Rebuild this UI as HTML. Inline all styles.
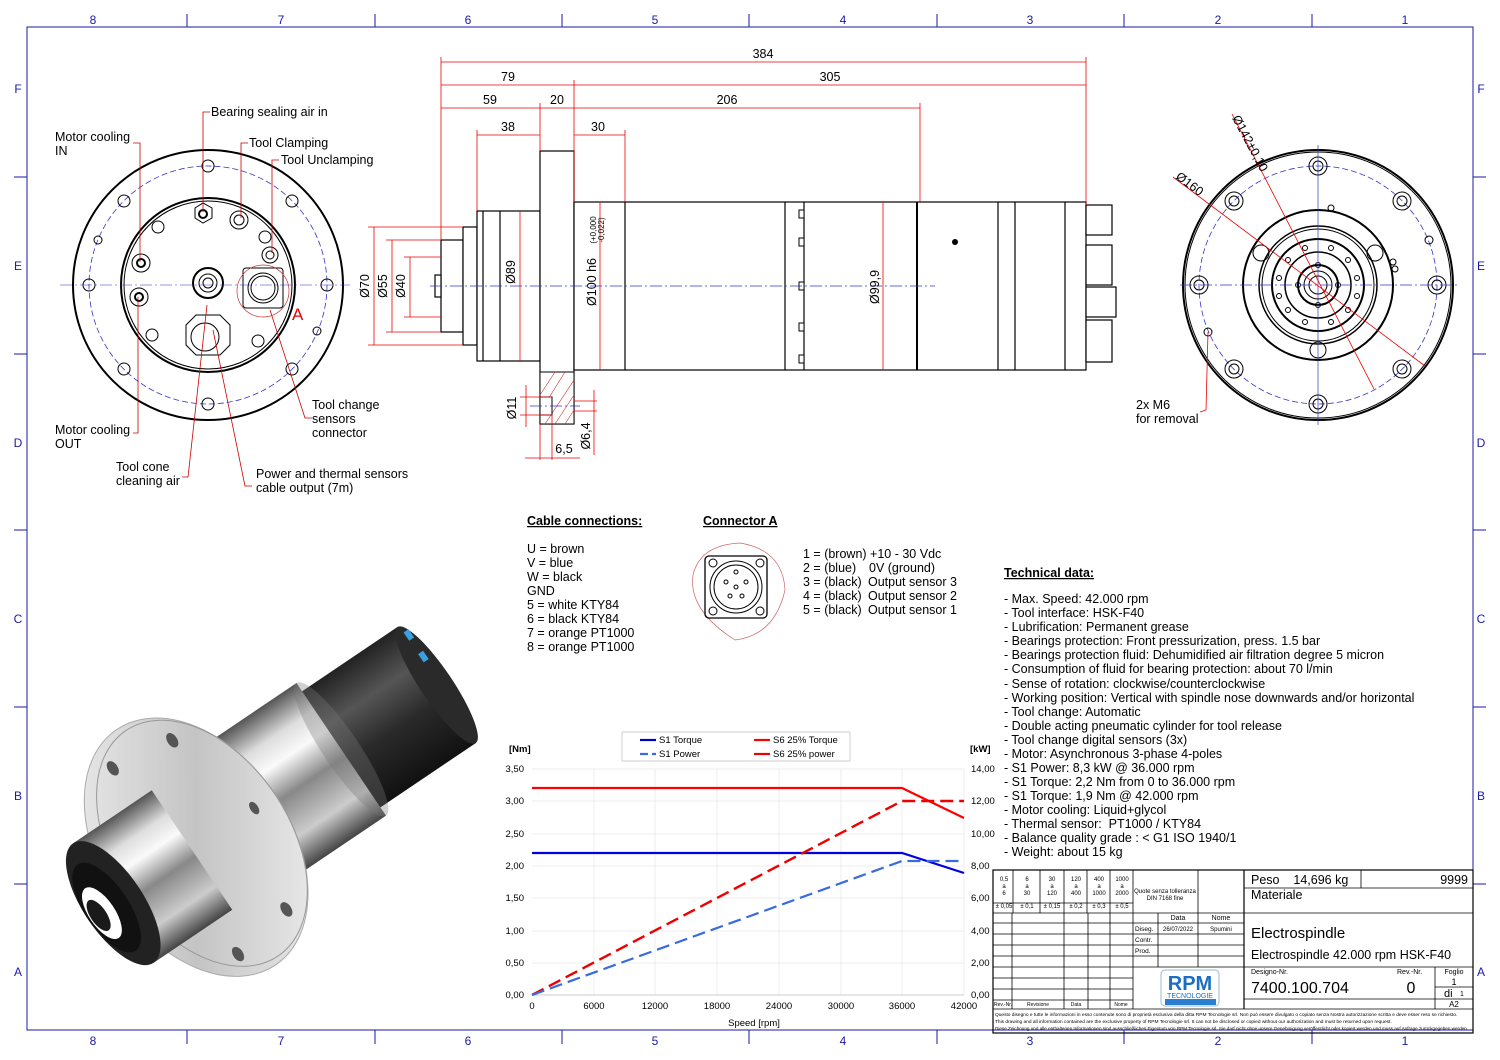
<!DOCTYPE html>
<html><head><meta charset="utf-8"><style>
html,body{margin:0;padding:0;background:#fff}
svg{display:block;font-family:"Liberation Sans",Arial,sans-serif}
.pre{white-space:pre}
</style></head><body>
<svg width="1500" height="1060" viewBox="0 0 1500 1060" xmlns="http://www.w3.org/2000/svg">
<defs>
<linearGradient id="sil" x1="0" y1="0" x2="0" y2="1">
<stop offset="0" stop-color="#555"/><stop offset="0.2" stop-color="#ddd"/><stop offset="0.35" stop-color="#fafafa"/><stop offset="0.55" stop-color="#888"/><stop offset="0.8" stop-color="#ccc"/><stop offset="1" stop-color="#444"/></linearGradient>
<linearGradient id="blk" x1="0" y1="0" x2="0" y2="1">
<stop offset="0" stop-color="#222"/><stop offset="0.3" stop-color="#555"/><stop offset="0.6" stop-color="#2a2a2a"/><stop offset="1" stop-color="#111"/></linearGradient>
<linearGradient id="fl" x1="0" y1="0" x2="1" y2="1">
<stop offset="0" stop-color="#f2f2f2"/><stop offset="0.5" stop-color="#c4c4c4"/><stop offset="1" stop-color="#f4f4f4"/></linearGradient>
</defs>
<rect width="1500" height="1060" fill="#fff"/>
<!-- frame -->
<g stroke="#1a1aa8" fill="none" stroke-width="1">
<rect x="27" y="27" width="1446" height="1003"/>
<line x1="187" y1="14" x2="187" y2="27"/><line x1="375" y1="14" x2="375" y2="27"/><line x1="562" y1="14" x2="562" y2="27"/><line x1="749" y1="14" x2="749" y2="27"/><line x1="937" y1="14" x2="937" y2="27"/><line x1="1124" y1="14" x2="1124" y2="27"/><line x1="1312" y1="14" x2="1312" y2="27"/>
<line x1="187" y1="1030" x2="187" y2="1044"/><line x1="375" y1="1030" x2="375" y2="1044"/><line x1="562" y1="1030" x2="562" y2="1044"/><line x1="749" y1="1030" x2="749" y2="1044"/><line x1="937" y1="1030" x2="937" y2="1044"/><line x1="1124" y1="1030" x2="1124" y2="1044"/><line x1="1312" y1="1030" x2="1312" y2="1044"/>
<line x1="14" y1="177" x2="27" y2="177"/><line x1="14" y1="354" x2="27" y2="354"/><line x1="14" y1="530" x2="27" y2="530"/><line x1="14" y1="707" x2="27" y2="707"/><line x1="14" y1="884" x2="27" y2="884"/>
<line x1="1473" y1="177" x2="1486" y2="177"/><line x1="1473" y1="354" x2="1486" y2="354"/><line x1="1473" y1="530" x2="1486" y2="530"/><line x1="1473" y1="707" x2="1486" y2="707"/><line x1="1473" y1="884" x2="1486" y2="884"/>
</g>
<g fill="#1a1aa8" font-size="12" text-anchor="middle">
<text x="93" y="24">8</text><text x="281" y="24">7</text><text x="468" y="24">6</text><text x="655" y="24">5</text><text x="843" y="24">4</text><text x="1030" y="24">3</text><text x="1218" y="24">2</text><text x="1405" y="24">1</text>
<text x="93" y="1045">8</text><text x="281" y="1045">7</text><text x="468" y="1045">6</text><text x="655" y="1045">5</text><text x="843" y="1045">4</text><text x="1030" y="1045">3</text><text x="1218" y="1045">2</text><text x="1405" y="1045">1</text>
<text x="18" y="93">F</text><text x="18" y="270">E</text><text x="18" y="447">D</text><text x="18" y="623">C</text><text x="18" y="800">B</text><text x="18" y="976">A</text>
<text x="1481" y="93">F</text><text x="1481" y="270">E</text><text x="1481" y="447">D</text><text x="1481" y="623">C</text><text x="1481" y="800">B</text><text x="1481" y="976">A</text>
</g>

<!-- LEFT VIEW -->
<g fill="none" stroke="#000">
<circle cx="208" cy="285" r="135" stroke-width="2"/>
<circle cx="208" cy="285" r="119" stroke="#33c" stroke-dasharray="6,3" stroke-width="0.8"/>
<circle cx="208" cy="285" r="87" stroke-width="2"/>
<circle cx="208" cy="285" r="84"/>
<g stroke-width="1">
<circle cx="208" cy="166" r="6"/><circle cx="208" cy="404" r="6"/><circle cx="89" cy="285" r="6"/><circle cx="327" cy="285" r="6"/>
<circle cx="124" cy="201" r="6"/><circle cx="292" cy="201" r="6"/><circle cx="124" cy="369" r="6"/><circle cx="292" cy="369" r="6"/>
<circle cx="98" cy="240" r="4"/><circle cx="317" cy="331" r="4"/>
<circle cx="158" cy="227" r="6"/><circle cx="265" cy="237" r="6"/><circle cx="152" cy="335" r="6"/><circle cx="258" cy="341" r="6"/>
<polygon points="195,208 203,203 212,208 212,218 203,223 195,218"/><circle cx="203" cy="214" r="4" stroke-width="2"/>
<circle cx="239" cy="220" r="9"/><circle cx="239" cy="220" r="5"/>
<circle cx="270" cy="255" r="8"/><circle cx="270" cy="255" r="4"/>
<circle cx="141" cy="263" r="9"/><circle cx="141" cy="263" r="4" stroke-width="2"/>
<circle cx="139" cy="297" r="9"/><circle cx="139" cy="297" r="4" stroke-width="2"/>
<circle cx="208" cy="283" r="15" stroke-width="2"/><circle cx="208" cy="283" r="9"/><circle cx="208" cy="283" r="5"/>
<polygon points="186,325 196,315 220,315 230,325 230,345 220,355 196,355 186,345"/><circle cx="205" cy="337" r="14"/>
<rect x="243" y="268" width="40" height="40" rx="3"/><circle cx="263" cy="288" r="15"/><circle cx="263" cy="288" r="12"/>
</g>
<circle cx="263" cy="291" r="26" stroke="#c33" stroke-width="0.7"/>
</g>
<g stroke="#33c" stroke-width="0.6" stroke-dasharray="12,3,2,3"><line x1="60" y1="285" x2="350" y2="285"/></g>
<text x="292" y="320" fill="#e00" font-size="17">A</text>
<g stroke="#c00" fill="none" stroke-width="0.8">
<polyline points="210,112 203,112 203,212"/>
<polyline points="248,143 241,143 241,218"/>
<polyline points="279,160 272,160 272,253"/>
<polyline points="133,143 140,143 140,262"/>
<polyline points="133,433 138,433 138,297"/>
<polyline points="182,477 188,477 207,305"/>
<polyline points="252,486 245,486 213,330"/>
<polyline points="312,418 305,418 270,310"/>
</g>
<g font-size="12.5" fill="#000">
<text x="211" y="116">Bearing sealing air in</text>
<text x="249" y="147">Tool Clamping</text>
<text x="281" y="164">Tool Unclamping</text>
<text x="55" y="141">Motor cooling</text><text x="55" y="155">IN</text>
<text x="55" y="434">Motor cooling</text><text x="55" y="448">OUT</text>
<text x="116" y="471">Tool cone</text><text x="116" y="485">cleaning air</text>
<text x="256" y="478">Power and thermal sensors</text><text x="256" y="492">cable output (7m)</text>
<text x="312" y="409">Tool change</text><text x="312" y="423">sensors</text><text x="312" y="437">connector</text>
</g>

<!-- SIDE VIEW -->
<g fill="#fff" stroke="#000" stroke-width="1.2">
<rect x="441" y="240" width="22" height="92"/>
<rect x="463" y="227" width="14" height="118"/>
<rect x="477" y="211" width="63" height="150"/>
<line x1="483" y1="211" x2="483" y2="361"/><line x1="500" y1="211" x2="500" y2="361"/>
<rect x="540" y="151" width="34" height="273"/>
<rect x="574" y="202" width="512" height="168"/>
<line x1="625" y1="202" x2="625" y2="370"/><line x1="785" y1="202" x2="785" y2="370"/><line x1="804" y1="202" x2="804" y2="370"/>
<line x1="917" y1="202" x2="917" y2="370" stroke-width="2"/><line x1="998" y1="202" x2="998" y2="370"/><line x1="1015" y1="202" x2="1015" y2="370"/><line x1="1065" y1="202" x2="1065" y2="370"/>
<rect x="1086" y="205" width="26" height="30"/><rect x="1086" y="245" width="26" height="40"/><rect x="1086" y="287" width="30" height="30"/><rect x="1086" y="320" width="26" height="42"/>
<rect x="435" y="275" width="6" height="22"/>
</g>
<circle cx="955" cy="242" r="3"/>
<g fill="#fff" stroke="#000"><rect x="799" y="210" width="5" height="8"/><rect x="799" y="238" width="5" height="8"/><rect x="799" y="282" width="5" height="8"/><rect x="799" y="323" width="5" height="8"/><rect x="799" y="355" width="5" height="8"/></g>
<rect x="540" y="372" width="34" height="52" fill="#fff" stroke="#000"/>
<g stroke="#c33" stroke-width="0.6"><line x1="545" y1="424" x2="574" y2="380"/><line x1="555" y1="424" x2="574" y2="395"/><line x1="565" y1="424" x2="574" y2="410"/><line x1="540" y1="395" x2="555" y2="372"/><line x1="540" y1="412" x2="565" y2="372"/></g>
<rect x="540" y="397" width="12" height="18" fill="#fff" stroke="#000"/>
<g stroke="#33c" stroke-width="0.7" stroke-dasharray="12,3,2,3"><line x1="430" y1="286" x2="935" y2="286"/><line x1="530" y1="406" x2="580" y2="406"/></g>
<!-- dims -->
<g stroke="#e00" stroke-width="0.8" fill="none">
<line x1="441" y1="57" x2="441" y2="240"/><line x1="1086" y1="57" x2="1086" y2="205"/><line x1="574" y1="80" x2="574" y2="202"/>
<line x1="540" y1="103" x2="540" y2="151"/><line x1="920" y1="103" x2="920" y2="202"/><line x1="477" y1="130" x2="477" y2="211"/><line x1="625" y1="130" x2="625" y2="202"/>
<line x1="441" y1="62" x2="1086" y2="62"/><line x1="441" y1="85" x2="1086" y2="85"/><line x1="441" y1="108" x2="920" y2="108"/><line x1="477" y1="135" x2="540" y2="135"/><line x1="574" y1="135" x2="625" y2="135"/>
<line x1="368" y1="227" x2="463" y2="227"/><line x1="368" y1="345" x2="463" y2="345"/><line x1="386" y1="240" x2="441" y2="240"/><line x1="386" y1="332" x2="441" y2="332"/><line x1="404" y1="257" x2="441" y2="257"/><line x1="404" y1="317" x2="441" y2="317"/>
<line x1="374" y1="227" x2="374" y2="345"/><line x1="392" y1="240" x2="392" y2="332"/><line x1="410" y1="257" x2="410" y2="317"/>
<line x1="520" y1="211" x2="520" y2="361"/><line x1="600" y1="202" x2="600" y2="370"/><line x1="883" y1="202" x2="883" y2="370"/>
<line x1="520" y1="397" x2="552" y2="397"/><line x1="520" y1="415" x2="552" y2="415"/><line x1="526" y1="385" x2="526" y2="427"/>
<line x1="574" y1="401" x2="597" y2="401"/><line x1="574" y1="411" x2="597" y2="411"/><line x1="594" y1="390" x2="594" y2="455"/>
<line x1="540" y1="424" x2="540" y2="460"/><line x1="552" y1="415" x2="552" y2="460"/><line x1="525" y1="458" x2="580" y2="458"/>
</g>
<g font-size="12.5" fill="#000" text-anchor="middle">
<text x="763" y="58">384</text><text x="508" y="81">79</text><text x="830" y="81">305</text>
<text x="490" y="104">59</text><text x="557" y="104">20</text><text x="727" y="104">206</text>
<text x="508" y="131">38</text><text x="598" y="131">30</text>
<text x="564" y="453">6,5</text>
<text transform="translate(369,286) rotate(-90)">Ø70</text>
<text transform="translate(387,286) rotate(-90)">Ø55</text>
<text transform="translate(405,286) rotate(-90)">Ø40</text>
<text transform="translate(515,272) rotate(-90)">Ø89</text>
<text transform="translate(596,282) rotate(-90)">Ø100 h6</text>
<text transform="translate(596,230) rotate(-90)" font-size="8">(+0,000</text>
<text transform="translate(604,230) rotate(-90)" font-size="8"> -0,022)</text>
<text transform="translate(879,287) rotate(-90)">Ø99,9</text>
<text transform="translate(516,408) rotate(-90)">Ø11</text>
<text transform="translate(590,436) rotate(-90)">Ø6,4</text>
</g>

<!-- RIGHT VIEW -->
<g fill="none" stroke="#000">
<circle cx="1318" cy="285" r="135" stroke-width="2"/><circle cx="1318" cy="285" r="133"/>
<circle cx="1318" cy="285" r="119" stroke="#33c" stroke-dasharray="6,3" stroke-width="0.8"/>
<circle cx="1318" cy="285" r="75" stroke-width="2"/><circle cx="1318" cy="285" r="59" stroke-width="1.5"/><circle cx="1318" cy="285" r="56"/>
<circle cx="1318" cy="285" r="46" stroke-width="2"/><circle cx="1318" cy="285" r="33" stroke-width="1.5"/><circle cx="1318" cy="285" r="20" stroke-width="2"/><circle cx="1318" cy="285" r="14"/><circle cx="1318" cy="285" r="9"/>
<g stroke-width="1">
<circle cx="1318" cy="166" r="9"/><circle cx="1318" cy="166" r="5"/><circle cx="1318" cy="404" r="9"/><circle cx="1318" cy="404" r="5"/>
<circle cx="1199" cy="285" r="9"/><circle cx="1199" cy="285" r="5"/><circle cx="1437" cy="285" r="9"/><circle cx="1437" cy="285" r="5"/>
<circle cx="1234" cy="201" r="9"/><circle cx="1234" cy="201" r="5"/><circle cx="1402" cy="201" r="9"/><circle cx="1402" cy="201" r="5"/>
<circle cx="1234" cy="369" r="9"/><circle cx="1234" cy="369" r="5"/><circle cx="1402" cy="369" r="9"/><circle cx="1402" cy="369" r="5"/>
<circle cx="1208" cy="332" r="4"/><circle cx="1429" cy="240" r="4"/>
<circle cx="1261" cy="253" r="8"/><circle cx="1375" cy="253" r="8"/><circle cx="1318" cy="350" r="8"/><circle cx="1331" cy="208" r="3"/><circle cx="1393" cy="262" r="3"/><circle cx="1395" cy="269" r="3"/>
<circle cx="1338" cy="285" r="2.5"/><circle cx="1298" cy="285" r="2.5"/><circle cx="1318" cy="265" r="2.5"/><circle cx="1318" cy="305" r="2.5"/>
<circle cx="1331" cy="248" r="2.5"/><circle cx="1305" cy="248" r="2.5"/><circle cx="1331" cy="322" r="2.5"/><circle cx="1305" cy="322" r="2.5"/>
<circle cx="1348" cy="260" r="2.5"/><circle cx="1288" cy="260" r="2.5"/><circle cx="1348" cy="310" r="2.5"/><circle cx="1288" cy="310" r="2.5"/>
<circle cx="1357" cy="278" r="2.5"/><circle cx="1279" cy="278" r="2.5"/><circle cx="1357" cy="296" r="2.5"/><circle cx="1279" cy="296" r="2.5"/>
</g></g>
<g stroke="#33c" stroke-width="0.7"><line x1="1180" y1="285" x2="1460" y2="285" stroke-dasharray="12,3,2,3"/><line x1="1318" y1="145" x2="1318" y2="425"/></g>
<g stroke="#e00" stroke-width="0.8" fill="none">
<line x1="1232" y1="114" x2="1374" y2="389"/><line x1="1173" y1="177" x2="1425" y2="366"/>
<polyline points="1208,332 1206,410 1200,412"/>
</g>
<g font-size="12.5" fill="#000">
<text transform="translate(1232,118) rotate(62)">Ø142±0,10</text>
<text transform="translate(1175,178) rotate(37)">Ø160</text>
<text x="1136" y="409">2x M6</text><text x="1136" y="423">for removal</text>
</g>

<!-- Cable connections / connector -->
<g font-size="12.5" fill="#000">
<text x="527" y="525" font-weight="bold" text-decoration="underline">Cable connections:</text>
<text x="703" y="525" font-weight="bold" text-decoration="underline">Connector A</text>
<text x="527" y="553">U = brown</text><text x="527" y="567">V = blue</text><text x="527" y="581">W = black</text><text x="527" y="595">GND</text>
<text x="527" y="609">5 = white KTY84</text><text x="527" y="623">6 = black KTY84</text><text x="527" y="637">7 = orange PT1000</text><text x="527" y="651">8 = orange PT1000</text>
<text x="803" y="558">1 = (brown) +10 - 30 Vdc</text><text x="803" y="572">2 = (blue)</text><text x="869" y="572">0V (ground)</text>
<text x="803" y="586">3 = (black)</text><text x="868" y="586">Output sensor 3</text><text x="803" y="600">4 = (black)</text><text x="868" y="600">Output sensor 2</text><text x="803" y="614">5 = (black)</text><text x="868" y="614">Output sensor 1</text>
</g>
<g fill="none" stroke="#000">
<path d="M740,543 Q700,545 693,575 Q688,610 735,640 Q775,635 785,590 Q783,550 740,543" stroke="#c66" stroke-width="0.7"/>
<rect x="705" y="556" width="62" height="62" rx="4" stroke-width="1.3"/><circle cx="736" cy="587" r="26"/><circle cx="736" cy="587" r="22"/>
<circle cx="713" cy="563" r="4"/><circle cx="760" cy="563" r="4"/><circle cx="713" cy="611" r="4"/><circle cx="760" cy="611" r="4"/>
<circle cx="736" cy="587" r="2"/><circle cx="726" cy="582" r="2"/><circle cx="746" cy="582" r="2"/><circle cx="730" cy="596" r="2"/><circle cx="742" cy="596" r="2"/><circle cx="736" cy="572" r="2"/>
</g>

<!-- Technical data -->
<g font-size="12.5" fill="#000">
<text x="1004" y="577" font-weight="bold" text-decoration="underline">Technical data:</text>
<text x="1004" y="603">- Max. Speed: 42.000 rpm</text>
<text x="1004" y="617">- Tool interface: HSK-F40</text>
<text x="1004" y="631">- Lubrification: Permanent grease</text>
<text x="1004" y="645">- Bearings protection: Front pressurization, press. 1.5 bar</text>
<text x="1004" y="659">- Bearings protection fluid: Dehumidified air filtration degree 5 micron</text>
<text x="1004" y="673">- Consumption of fluid for bearing protection: about 70 l/min</text>
<text x="1004" y="688">- Sense of rotation: clockwise/counterclockwise</text>
<text x="1004" y="702">- Working position: Vertical with spindle nose downwards and/or horizontal</text>
<text x="1004" y="716">- Tool change: Automatic</text>
<text x="1004" y="730">- Double acting pneumatic cylinder for tool release</text>
<text x="1004" y="744">- Tool change digital sensors (3x)</text>
<text x="1004" y="758">- Motor: Asynchronous 3-phase 4-poles</text>
<text x="1004" y="772">- S1 Power: 8,3 kW @ 36.000 rpm</text>
<text x="1004" y="786">- S1 Torque: 2,2 Nm from 0 to 36.000 rpm</text>
<text x="1004" y="800">- S1 Torque: 1,9 Nm @ 42.000 rpm</text>
<text x="1004" y="814">- Motor cooling: Liquid+glycol</text>
<text x="1004" y="828" class="pre">- Thermal sensor:  PT1000 / KTY84</text>
<text x="1004" y="842">- Balance quality grade : &lt; G1 ISO 1940/1</text>
<text x="1004" y="856">- Weight: about 15 kg</text>
</g>

<!-- Chart -->
<g stroke="#e8e8e8" stroke-width="0.8">
<line x1="532" y1="769" x2="964" y2="769"/><line x1="532" y1="801" x2="964" y2="801"/><line x1="532" y1="834" x2="964" y2="834"/><line x1="532" y1="866" x2="964" y2="866"/><line x1="532" y1="898" x2="964" y2="898"/><line x1="532" y1="931" x2="964" y2="931"/><line x1="532" y1="963" x2="964" y2="963"/>
<line x1="594" y1="769" x2="594" y2="995"/><line x1="655" y1="769" x2="655" y2="995"/><line x1="717" y1="769" x2="717" y2="995"/><line x1="779" y1="769" x2="779" y2="995"/><line x1="841" y1="769" x2="841" y2="995"/><line x1="902" y1="769" x2="902" y2="995"/><line x1="964" y1="769" x2="964" y2="995"/>
</g>
<line x1="532" y1="995" x2="964" y2="995" stroke="#ccc"/>
<rect x="622" y="732" width="228" height="29" fill="#fff" stroke="#ccc"/>
<g stroke-width="2.2" fill="none">
<line x1="640" y1="740" x2="656" y2="740" stroke="#0000c8"/><line x1="640" y1="754" x2="656" y2="754" stroke="#3a6ae0" stroke-dasharray="8,4"/>
<line x1="754" y1="740" x2="770" y2="740" stroke="#f00"/><line x1="754" y1="754" x2="770" y2="754" stroke="#e00"/>
<polyline points="532,788 902,788 964,818" stroke="#f00"/>
<polyline points="532,853 902,853 964,873" stroke="#0000e0"/>
<polyline points="532,995 902,801 964,801" stroke="#e00" stroke-dasharray="13,6" stroke-width="2.4"/>
<polyline points="532,995 902,861 964,861" stroke="#3a6ae0" stroke-dasharray="13,6" stroke-width="2.2"/>
</g>
<g font-size="9.5" fill="#000">
<text x="659" y="743">S1 Torque</text><text x="659" y="757">S1 Power</text><text x="773" y="743">S6 25% Torque</text><text x="773" y="757">S6 25% power</text>
<text x="509" y="752" font-weight="bold">[Nm]</text><text x="970" y="752" font-weight="bold">[kW]</text>
</g>
<g font-size="9.5" fill="#000" text-anchor="end">
<text x="524" y="772">3,50</text><text x="524" y="804">3,00</text><text x="524" y="837">2,50</text><text x="524" y="869">2,00</text><text x="524" y="901">1,50</text><text x="524" y="934">1,00</text><text x="524" y="966">0,50</text><text x="524" y="998">0,00</text>
</g>
<g font-size="9.5" fill="#000">
<text x="971" y="772">14,00</text><text x="971" y="804">12,00</text><text x="971" y="837">10,00</text><text x="971" y="869">8,00</text><text x="971" y="901">6,00</text><text x="971" y="934">4,00</text><text x="971" y="966">2,00</text><text x="971" y="998">0,00</text>
</g>
<g font-size="9.5" fill="#000" text-anchor="middle">
<text x="532" y="1009">0</text><text x="594" y="1009">6000</text><text x="655" y="1009">12000</text><text x="717" y="1009">18000</text><text x="779" y="1009">24000</text><text x="841" y="1009">30000</text><text x="902" y="1009">36000</text><text x="964" y="1009">42000</text>
<text x="754" y="1026">Speed [rpm]</text>
</g>

<!-- Title block -->
<g stroke="#000" fill="none" stroke-width="0.8">
<rect x="993" y="870" width="480" height="163" stroke-width="1.2"/>
<line x1="993" y1="1009" x2="1473" y2="1009"/>
<line x1="1133" y1="870" x2="1133" y2="1009"/><line x1="1244" y1="870" x2="1244" y2="1009" stroke-width="1.2"/>
<line x1="993" y1="903" x2="1133" y2="903"/><line x1="993" y1="913" x2="1244" y2="913"/>
<line x1="1013" y1="870" x2="1013" y2="913"/><line x1="1040" y1="870" x2="1040" y2="913"/><line x1="1064" y1="870" x2="1064" y2="913"/><line x1="1087" y1="870" x2="1087" y2="913"/><line x1="1110" y1="870" x2="1110" y2="913"/>
<line x1="1198" y1="870" x2="1198" y2="913"/>
<line x1="1012" y1="913" x2="1012" y2="1009"/><line x1="1064" y1="913" x2="1064" y2="1009"/><line x1="1088" y1="913" x2="1088" y2="1009"/><line x1="1110" y1="913" x2="1110" y2="1009"/>
<line x1="993" y1="923" x2="1244" y2="923"/><line x1="993" y1="934" x2="1244" y2="934"/><line x1="993" y1="945" x2="1244" y2="945"/><line x1="993" y1="956" x2="1244" y2="956"/><line x1="993" y1="967" x2="1244" y2="967"/>
<line x1="993" y1="978" x2="1133" y2="978"/><line x1="993" y1="989" x2="1133" y2="989"/><line x1="993" y1="1000" x2="1133" y2="1000"/>
<line x1="1158" y1="913" x2="1158" y2="967"/><line x1="1198" y1="913" x2="1198" y2="967"/>
<line x1="1244" y1="888" x2="1473" y2="888"/><line x1="1361" y1="870" x2="1361" y2="888"/>
<line x1="1244" y1="913" x2="1473" y2="913"/><line x1="1244" y1="967" x2="1473" y2="967"/>
<line x1="1435" y1="967" x2="1435" y2="1009"/><line x1="1435" y1="987" x2="1473" y2="987"/><line x1="1435" y1="999" x2="1473" y2="999"/><line x1="1244" y1="999" x2="1435" y2="999"/>
</g>
<g font-size="6" fill="#000" text-anchor="middle">
<text x="1004" y="881">0,5</text><text x="1004" y="888">a</text><text x="1004" y="895">6</text><text x="1004" y="908">± 0,05</text>
<text x="1027" y="881">6</text><text x="1027" y="888">a</text><text x="1027" y="895">30</text><text x="1027" y="908">± 0,1</text>
<text x="1052" y="881">30</text><text x="1052" y="888">a</text><text x="1052" y="895">120</text><text x="1052" y="908">± 0,15</text>
<text x="1076" y="881">120</text><text x="1076" y="888">a</text><text x="1076" y="895">400</text><text x="1076" y="908">± 0,2</text>
<text x="1099" y="881">400</text><text x="1099" y="888">a</text><text x="1099" y="895">1000</text><text x="1099" y="908">± 0,3</text>
<text x="1122" y="881">1000</text><text x="1122" y="888">a</text><text x="1122" y="895">2000</text><text x="1122" y="908">± 0,5</text>
<text x="1165" y="893">Quote senza tolleranza</text><text x="1165" y="900">DIN 7168 fine</text>
<text x="1178" y="920" font-size="7">Data</text><text x="1221" y="920" font-size="7">Nome</text>
<text x="1178" y="931">26/07/2022</text><text x="1221" y="931">Spumini</text>
<text x="1003" y="1006" font-size="5">Rev.-Nr.</text><text x="1038" y="1006" font-size="5">Revisione</text><text x="1076" y="1006" font-size="5">Data</text><text x="1121" y="1006" font-size="5">Nome</text>
</g>
<g font-size="6.5" fill="#000"><text x="1135" y="931">Diseg.</text><text x="1135" y="942">Contr.</text><text x="1135" y="953">Prod.</text></g>
<rect x="1161" y="970" width="58" height="36" rx="4" fill="#fff" stroke="#9bc"/>
<text x="1190" y="990" font-size="20" font-weight="bold" fill="#1a6fc4" text-anchor="middle">RPM</text>
<text x="1190" y="998" font-size="7" fill="#1a6fc4" text-anchor="middle">TECNOLOGIE</text>
<rect x="1165" y="999" width="51" height="6" fill="#2a7fd0"/>
<g fill="#000">
<text x="1251" y="884" font-size="12.5" class="pre">Peso    14,696 kg</text>
<text x="1468" y="884" font-size="12.5" text-anchor="end">9999</text>
<text x="1251" y="899" font-size="12.5">Materiale</text>
<text x="1251" y="938" font-size="15">Electrospindle</text>
<text x="1251" y="959" font-size="12.5">Electrospindle 42.000 rpm HSK-F40</text>
<text x="1251" y="974" font-size="7">Designo-Nr.</text>
<text x="1251" y="993" font-size="16">7400.100.704</text>
<text x="1397" y="974" font-size="7">Rev.-Nr.</text>
<text x="1411" y="993" font-size="16" text-anchor="middle">0</text>
<text x="1454" y="974" font-size="7" text-anchor="middle">Foglio</text>
<text x="1454" y="985" font-size="9" text-anchor="middle">1</text>
<text x="1444" y="997" font-size="11">di</text><text x="1460" y="996" font-size="7">1</text>
<text x="1454" y="1007" font-size="8" text-anchor="middle">A2</text>
<text x="995" y="1016" font-size="4.8">Questo disegno e tutte le informazioni in esso contenute sono di proprietà esclusiva della ditta RPM Tecnologie srl. Non può essere divulgato o copiato senza Nostra autorizzazione scritta e deve esser reso se richiesto.</text>
<text x="995" y="1023" font-size="4.8">This drawing and all information contained are the exclusive property of RPM Tecnologie srl. It can not be disclosed or copied without our authorization and must be returned upon request.</text>
<text x="995" y="1030" font-size="4.6">Diese Zeichnung und alle enthaltenen Informationen sind ausschließliches Eigentum von RPM Tecnologie srl. Sie darf nicht ohne unsere Genehmigung veröffentlicht oder kopiert werden und muss auf Anfrage zurückgegeben werden.</text>
</g>

<!-- 3D photo approximation -->
<g transform="translate(192,850) rotate(-34)">
<rect x="175" y="-70" width="120" height="140" fill="url(#blk)"/>
<ellipse cx="295" cy="0" rx="16" ry="70" fill="#2a2a2a"/>
<rect x="297" y="-62" width="6" height="10" fill="#3aa0e0"/><rect x="297" y="-36" width="6" height="10" fill="#3aa0e0"/>
<rect x="10" y="-80" width="170" height="160" fill="url(#sil)"/>
<ellipse cx="180" cy="0" rx="18" ry="80" fill="#777" opacity="0.35"/>
<ellipse cx="5" cy="0" rx="95" ry="142" fill="url(#fl)" stroke="#aaa"/>
<ellipse cx="12" cy="0" rx="88" ry="136" fill="none" stroke="#999"/>
<ellipse cx="-20" cy="-112" rx="5" ry="8" fill="#555"/><ellipse cx="-20" cy="112" rx="5" ry="8" fill="#555"/><ellipse cx="45" cy="-102" rx="5" ry="8" fill="#555"/><ellipse cx="45" cy="102" rx="5" ry="8" fill="#555"/><ellipse cx="-70" cy="-62" rx="4" ry="7" fill="#555"/><ellipse cx="75" cy="0" rx="4" ry="7" fill="#555"/>
<rect x="-95" y="-72" width="95" height="144" fill="url(#sil)"/>
<ellipse cx="-95" cy="0" rx="30" ry="72" fill="#222"/>
<ellipse cx="-103" cy="0" rx="22" ry="52" fill="#111"/>
<ellipse cx="-110" cy="2" rx="13" ry="30" fill="#fff"/>
<ellipse cx="-114" cy="2" rx="8" ry="18" fill="#1a1a1a"/>
</g>
</svg>
</body></html>
